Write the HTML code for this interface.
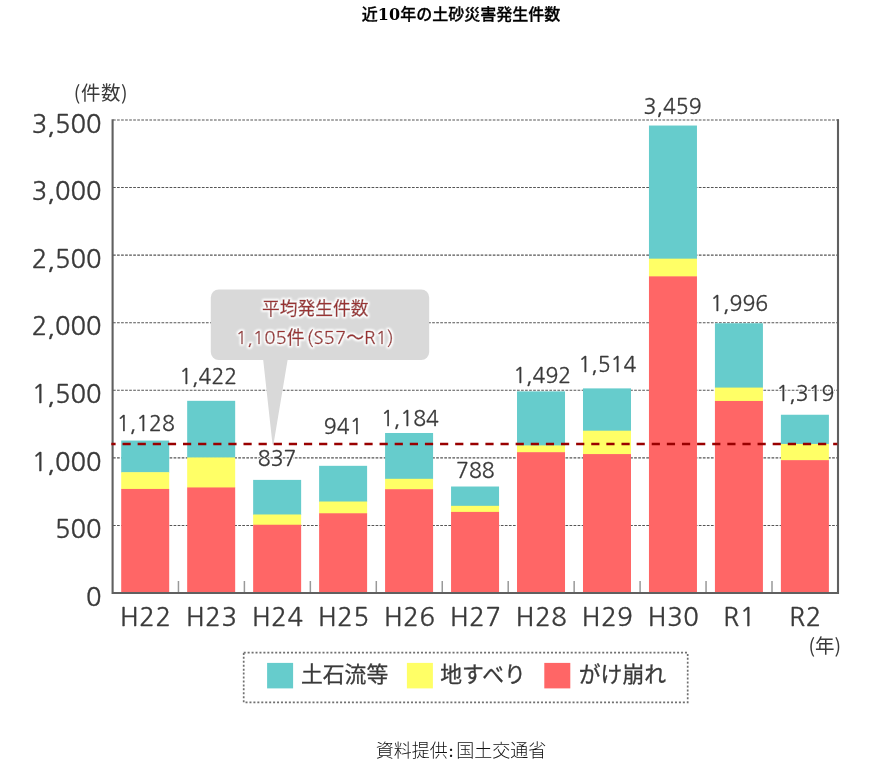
<!DOCTYPE html>
<html lang="ja"><head><meta charset="utf-8"><title>近10年の土砂災害発生件数</title>
<style>
html,body{margin:0;padding:0;background:#fff}
body{position:relative;width:890px;height:766px;overflow:hidden;font-family:"DejaVu Serif","Noto Sans CJK JP",serif;color:#000}
.title{position:absolute;left:261px;width:400px;top:3px;text-align:center;font-size:16px;font-weight:500;-webkit-text-stroke:0.3px #000;line-height:24px;white-space:nowrap}
.src{position:absolute;left:261px;width:400px;top:738px;text-align:center;font-size:18px;line-height:26px;white-space:nowrap;font-weight:300;color:#111}
.title b{font-weight:bold;-webkit-text-stroke:0}
svg text{font-family:"Liberation Sans","Noto Sans CJK JP",sans-serif;fill:#3a3a3a}
svg .n{font-family:"NanumGothic","Liberation Sans",sans-serif}
.ax{font-size:25.6px;stroke:#3a3a3a;stroke-width:.35px}
.xl{letter-spacing:.7px}
.vl,.vh{font-size:21.3px}
.vh{fill:#fff !important;stroke:#fff;stroke-width:2.2px;stroke-linejoin:round}
.vl{stroke:#3a3a3a;stroke-width:.3px}
svg .un{font-size:19.5px;font-family:"Noto Sans CJK JP",sans-serif}
.co .n{font-size:18.7px}
.co{font-size:17.8px;fill:#993333 !important;stroke:#993333;stroke-width:.4px;filter:url(#gl)}
.lg{font-size:21.8px;stroke:#3a3a3a;stroke-width:.3px}
</style></head><body>
<div class="title">近<b>10</b>年の土砂災害発生件数</div>
<svg width="890" height="766" viewBox="0 0 890 766" style="position:absolute;left:0;top:0">
<defs><filter id="gl" x="-10%" y="-40%" width="120%" height="180%"><feMorphology in="SourceAlpha" operator="dilate" radius="0.8" result="d"/><feGaussianBlur in="d" stdDeviation="1.3" result="b"/><feFlood flood-color="#fff" flood-opacity="1"/><feComposite in2="b" operator="in" result="g"/><feMerge><feMergeNode in="g"/><feMergeNode in="g"/><feMergeNode in="SourceGraphic"/></feMerge></filter></defs>
<line x1="113" x2="840" y1="525.43" y2="525.43" stroke="#555" stroke-width="1.1" stroke-dasharray="2.7 1.34"/>
<line x1="113" x2="840" y1="457.86" y2="457.86" stroke="#555" stroke-width="1.1" stroke-dasharray="2.7 1.34"/>
<line x1="113" x2="840" y1="390.29" y2="390.29" stroke="#555" stroke-width="1.1" stroke-dasharray="2.7 1.34"/>
<line x1="113" x2="840" y1="322.71" y2="322.71" stroke="#555" stroke-width="1.1" stroke-dasharray="2.7 1.34"/>
<line x1="113" x2="840" y1="255.14" y2="255.14" stroke="#555" stroke-width="1.1" stroke-dasharray="2.7 1.34"/>
<line x1="113" x2="840" y1="187.57" y2="187.57" stroke="#555" stroke-width="1.1" stroke-dasharray="2.7 1.34"/>
<line x1="113" x2="840" y1="120.00" y2="120.00" stroke="#555" stroke-width="1.1" stroke-dasharray="2.7 1.34"/>
<line x1="178.45" x2="178.45" y1="581" y2="592" stroke="#999" stroke-width="1.5"/>
<line x1="244.40" x2="244.40" y1="581" y2="592" stroke="#999" stroke-width="1.5"/>
<line x1="310.35" x2="310.35" y1="581" y2="592" stroke="#999" stroke-width="1.5"/>
<line x1="376.30" x2="376.30" y1="581" y2="592" stroke="#999" stroke-width="1.5"/>
<line x1="442.25" x2="442.25" y1="581" y2="592" stroke="#999" stroke-width="1.5"/>
<line x1="508.20" x2="508.20" y1="581" y2="592" stroke="#999" stroke-width="1.5"/>
<line x1="574.15" x2="574.15" y1="581" y2="592" stroke="#999" stroke-width="1.5"/>
<line x1="640.10" x2="640.10" y1="581" y2="592" stroke="#999" stroke-width="1.5"/>
<line x1="706.05" x2="706.05" y1="581" y2="592" stroke="#999" stroke-width="1.5"/>
<line x1="772.00" x2="772.00" y1="581" y2="592" stroke="#999" stroke-width="1.5"/>
<rect x="121.20" y="440.56" width="48" height="32.12" fill="#66cccc"/>
<rect x="121.20" y="472.18" width="48" height="17.26" fill="#ffff66"/>
<rect x="121.20" y="488.94" width="48" height="104.36" fill="#ff6666"/>
<rect x="187.17" y="400.83" width="48" height="57.12" fill="#66cccc"/>
<rect x="187.17" y="457.45" width="48" height="30.50" fill="#ffff66"/>
<rect x="187.17" y="487.45" width="48" height="105.85" fill="#ff6666"/>
<rect x="253.14" y="479.89" width="48" height="35.10" fill="#66cccc"/>
<rect x="253.14" y="514.48" width="48" height="10.77" fill="#ffff66"/>
<rect x="253.14" y="524.75" width="48" height="68.55" fill="#ff6666"/>
<rect x="319.11" y="465.83" width="48" height="36.18" fill="#66cccc"/>
<rect x="319.11" y="501.51" width="48" height="12.26" fill="#ffff66"/>
<rect x="319.11" y="513.27" width="48" height="80.03" fill="#ff6666"/>
<rect x="385.08" y="432.99" width="48" height="46.31" fill="#66cccc"/>
<rect x="385.08" y="478.80" width="48" height="10.91" fill="#ffff66"/>
<rect x="385.08" y="489.21" width="48" height="104.09" fill="#ff6666"/>
<rect x="451.05" y="486.51" width="48" height="19.83" fill="#66cccc"/>
<rect x="451.05" y="505.83" width="48" height="6.58" fill="#ffff66"/>
<rect x="451.05" y="511.91" width="48" height="81.39" fill="#ff6666"/>
<rect x="517.02" y="391.37" width="48" height="54.56" fill="#66cccc"/>
<rect x="517.02" y="445.42" width="48" height="7.26" fill="#ffff66"/>
<rect x="517.02" y="452.18" width="48" height="141.12" fill="#ff6666"/>
<rect x="582.99" y="388.39" width="48" height="42.80" fill="#66cccc"/>
<rect x="582.99" y="430.69" width="48" height="23.88" fill="#ffff66"/>
<rect x="582.99" y="454.07" width="48" height="139.23" fill="#ff6666"/>
<rect x="648.96" y="125.54" width="48" height="133.62" fill="#66cccc"/>
<rect x="648.96" y="258.66" width="48" height="18.20" fill="#ffff66"/>
<rect x="648.96" y="276.36" width="48" height="316.94" fill="#ff6666"/>
<rect x="714.93" y="323.25" width="48" height="64.83" fill="#66cccc"/>
<rect x="714.93" y="387.58" width="48" height="13.88" fill="#ffff66"/>
<rect x="714.93" y="400.96" width="48" height="192.34" fill="#ff6666"/>
<rect x="780.90" y="414.75" width="48" height="29.69" fill="#66cccc"/>
<rect x="780.90" y="443.94" width="48" height="16.72" fill="#ffff66"/>
<rect x="780.90" y="460.15" width="48" height="133.15" fill="#ff6666"/>
<path d="M112.6 119.3V593H838V119.3" fill="none" stroke="#606060" stroke-width="2.1"/>
<path d="M218.8 289.4H421.2a8 8 0 0 1 8 8V352.1a8 8 0 0 1 -8 8H287.6L273.5 444.3H272.5L263.2 360.1H218.8a8 8 0 0 1 -8 -8V297.4a8 8 0 0 1 8 -8Z" fill="#d9d9d9"/>
<line x1="111.3" x2="837.3" y1="444" y2="444" stroke="#990000" stroke-width="2.7" stroke-dasharray="8.2 6.92" stroke-dashoffset="3.9"/>
<g class="t">
<text class="ax n" x="101.6" y="132.7" text-anchor="end">3,500</text>
<text class="ax n" x="101.6" y="200.3" text-anchor="end">3,000</text>
<text class="ax n" x="101.6" y="267.8" text-anchor="end">2,500</text>
<text class="ax n" x="101.6" y="335.4" text-anchor="end">2,000</text>
<text class="ax n" x="101.6" y="403.0" text-anchor="end">1,500</text>
<text class="ax n" x="101.6" y="470.6" text-anchor="end">1,000</text>
<text class="ax n" x="101.6" y="538.1" text-anchor="end">500</text>
<text class="ax n" x="101.6" y="605.7" text-anchor="end">0</text>
<text class="ax xl n" x="145.9" y="625.7" text-anchor="middle">H22</text>
<text class="ax xl n" x="211.9" y="625.7" text-anchor="middle">H23</text>
<text class="ax xl n" x="277.8" y="625.7" text-anchor="middle">H24</text>
<text class="ax xl n" x="343.8" y="625.7" text-anchor="middle">H25</text>
<text class="ax xl n" x="409.8" y="625.7" text-anchor="middle">H26</text>
<text class="ax xl n" x="475.8" y="625.7" text-anchor="middle">H27</text>
<text class="ax xl n" x="541.7" y="625.7" text-anchor="middle">H28</text>
<text class="ax xl n" x="607.7" y="625.7" text-anchor="middle">H29</text>
<text class="ax xl n" x="673.7" y="625.7" text-anchor="middle">H30</text>
<text class="ax xl n" x="739.6" y="625.7" text-anchor="middle">R1</text>
<text class="ax xl n" x="805.6" y="625.7" text-anchor="middle">R2</text>
<text class="vh n" x="145.9" y="431.0" text-anchor="middle" aria-hidden="true">1,128</text><text class="vl n" x="145.9" y="431.0" text-anchor="middle">1,128</text>
<text class="vh n" x="208.2" y="383.8" text-anchor="middle" aria-hidden="true">1,422</text><text class="vl n" x="208.2" y="383.8" text-anchor="middle">1,422</text>
<text class="vh n" x="277.1" y="465.6" text-anchor="middle" aria-hidden="true">837</text><text class="vl n" x="277.1" y="465.6" text-anchor="middle">837</text>
<text class="vh n" x="343.2" y="434.2" text-anchor="middle" aria-hidden="true">941</text><text class="vl n" x="343.2" y="434.2" text-anchor="middle">941</text>
<text class="vh n" x="410.0" y="425.8" text-anchor="middle" aria-hidden="true">1,184</text><text class="vl n" x="410.0" y="425.8" text-anchor="middle">1,184</text>
<text class="vh n" x="475.4" y="477.5" text-anchor="middle" aria-hidden="true">788</text><text class="vl n" x="475.4" y="477.5" text-anchor="middle">788</text>
<text class="vh n" x="542.2" y="383.3" text-anchor="middle" aria-hidden="true">1,492</text><text class="vl n" x="542.2" y="383.3" text-anchor="middle">1,492</text>
<text class="vh n" x="607.4" y="372.0" text-anchor="middle" aria-hidden="true">1,514</text><text class="vl n" x="607.4" y="372.0" text-anchor="middle">1,514</text>
<text class="vh n" x="672.6" y="113.8" text-anchor="middle" aria-hidden="true">3,459</text><text class="vl n" x="672.6" y="113.8" text-anchor="middle">3,459</text>
<text class="vh n" x="739.2" y="310.7" text-anchor="middle" aria-hidden="true">1,996</text><text class="vl n" x="739.2" y="310.7" text-anchor="middle">1,996</text>
<text class="vh n" x="805.4" y="400.6" text-anchor="middle" aria-hidden="true">1,319</text><text class="vl n" x="805.4" y="400.6" text-anchor="middle">1,319</text>
<text class="un" x="100.9" y="99.8" text-anchor="middle" style="letter-spacing:.5px">(件数)</text>
<text class="un" x="824.8" y="653.3" text-anchor="middle">(年)</text>
<text class="co" x="315.3" y="315.3" text-anchor="middle">平均発生件数</text>
<text class="co" x="314.8" y="344.3" text-anchor="middle"><tspan class="n">1,105</tspan>件<tspan class="n" dx="2">(S57</tspan>～<tspan class="n">R1)</tspan></text>
<rect x="243.7" y="652.7" width="444" height="49.6" fill="none" stroke="#707070" stroke-width="1.7" stroke-dasharray="2 1.94"/>
<rect x="267.1" y="662.9" width="26" height="25.5" fill="#66cccc"/>
<rect x="406.9" y="662.9" width="26" height="25.5" fill="#ffff66"/>
<rect x="544.3" y="662.9" width="26" height="25.5" fill="#ff6666"/>
<text class="lg" x="301" y="682.2">土石流等</text>
<text class="lg" x="440.2" y="682.2">地すべり</text>
<text class="lg" x="578.8" y="682.2">がけ崩れ</text>
</g></svg>
<div class="src">資料提供<span style="margin:0 2.2px 0 0.3px">:</span>国土交通省</div>
</body></html>
